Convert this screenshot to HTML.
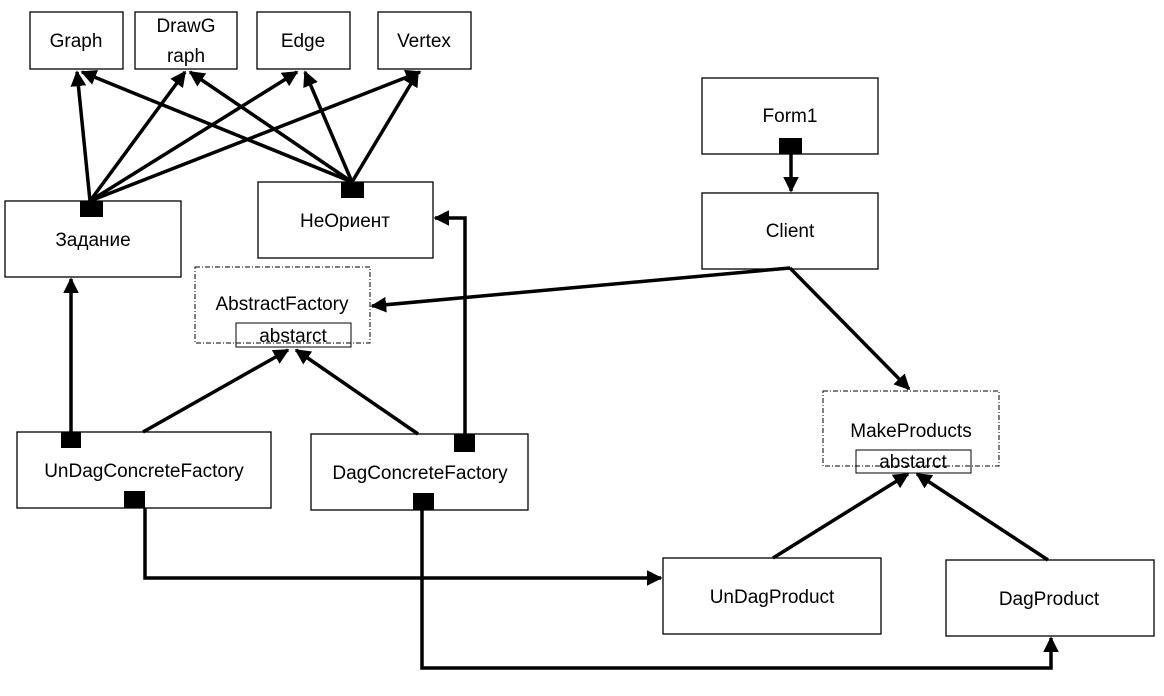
<!DOCTYPE html>
<html><head><meta charset="utf-8"><style>
html,body{margin:0;padding:0;background:#fff;}
svg{display:block;}
text{font-family:"Liberation Sans","DejaVu Sans",sans-serif;font-size:19px;fill:#000;text-anchor:middle;}
</style></head><body>
<svg width="1164" height="696" viewBox="0 0 1164 696" xmlns="http://www.w3.org/2000/svg">
<defs>
<marker id="a" viewBox="0 0 10 10" refX="9" refY="5" markerWidth="4.5" markerHeight="4.5" orient="auto-start-reverse" markerUnits="strokeWidth">
<path d="M0,0 L10,5 L0,10 z" fill="#000"/></marker>
</defs>
<g fill="#fff" stroke="#000" stroke-width="1.3">
<rect x="30" y="12" width="93" height="57"/>
<rect x="135" y="12" width="102" height="57"/>
<rect x="257" y="12" width="93" height="57"/>
<rect x="378" y="12" width="93" height="57"/>
<rect x="5" y="201" width="176" height="76"/>
<rect x="258" y="182" width="175" height="76"/>
<rect x="17" y="432" width="254" height="76"/>
<rect x="311" y="434" width="217" height="76"/>
<rect x="702" y="78" width="176" height="76"/>
<rect x="702" y="193" width="176" height="76"/>
<rect x="663" y="558" width="218" height="76"/>
<rect x="946" y="560" width="208" height="76"/>
</g>
<g fill="none" stroke="#000" stroke-width="1" stroke-dasharray="5,2,1,2">
<rect x="195" y="267" width="175" height="76"/>
<rect x="823" y="391" width="176" height="75"/>
</g>
<g fill="none" stroke="#000" stroke-width="3.5">
<line x1="90" y1="201" x2="77" y2="72" marker-end="url(#a)"/>
<line x1="90" y1="201" x2="185" y2="72" marker-end="url(#a)"/>
<line x1="90" y1="201" x2="297" y2="72" marker-end="url(#a)"/>
<line x1="90" y1="201" x2="420" y2="72" marker-end="url(#a)"/>
<line x1="352" y1="182" x2="82" y2="72" marker-end="url(#a)"/>
<line x1="352" y1="182" x2="190" y2="72" marker-end="url(#a)"/>
<line x1="352" y1="182" x2="305" y2="72" marker-end="url(#a)"/>
<line x1="352" y1="182" x2="418" y2="72" marker-end="url(#a)"/>
<line x1="791" y1="154" x2="791" y2="191" marker-end="url(#a)"/>
<line x1="790" y1="268" x2="372" y2="306" marker-end="url(#a)"/>
<line x1="790" y1="268" x2="909" y2="389" marker-end="url(#a)"/>
<line x1="143" y1="432" x2="288" y2="350" marker-end="url(#a)"/>
<line x1="418" y1="434" x2="296" y2="350" marker-end="url(#a)"/>
<line x1="71" y1="432" x2="71" y2="279" marker-end="url(#a)"/>
<polyline points="465,434 465,218 435,218" marker-end="url(#a)"/>
<polyline points="145,508 145,578 661,578" marker-end="url(#a)"/>
<polyline points="422,510 422,668 1051,668 1051,638" marker-end="url(#a)"/>
<line x1="773" y1="558" x2="908" y2="474" marker-end="url(#a)"/>
<line x1="1048" y1="560" x2="917" y2="474" marker-end="url(#a)"/>
</g>
<g fill="#000">
<rect x="80" y="201" width="23" height="16"/>
<rect x="341" y="182" width="23" height="16"/>
<rect x="61" y="432" width="20" height="16"/>
<rect x="124" y="491" width="21" height="17"/>
<rect x="454" y="434" width="21" height="18"/>
<rect x="413" y="493" width="21" height="17"/>
<rect x="779" y="138" width="23" height="16"/>
</g>
<g fill="none" stroke="#000" stroke-width="1">
<rect x="236" y="323" width="115" height="24"/>
<rect x="856" y="450" width="115" height="23"/>
</g>
<text x="76" y="47">Graph</text>
<text x="186" y="32">DrawG</text>
<text x="186" y="62">raph</text>
<text x="303" y="47">Edge</text>
<text x="424" y="47">Vertex</text>
<text x="93" y="246">Задание</text>
<text x="345" y="227">НеОриент</text>
<text x="282" y="310">AbstractFactory</text>
<text x="293" y="342">abstarct</text>
<text x="144" y="477">UnDagConcreteFactory</text>
<text x="420" y="479">DagConcreteFactory</text>
<text x="790" y="122">Form1</text>
<text x="790" y="237">Client</text>
<text x="911" y="437">MakeProducts</text>
<text x="913" y="468">abstarct</text>
<text x="772" y="603">UnDagProduct</text>
<text x="1049" y="605">DagProduct</text>
</svg>
</body></html>
